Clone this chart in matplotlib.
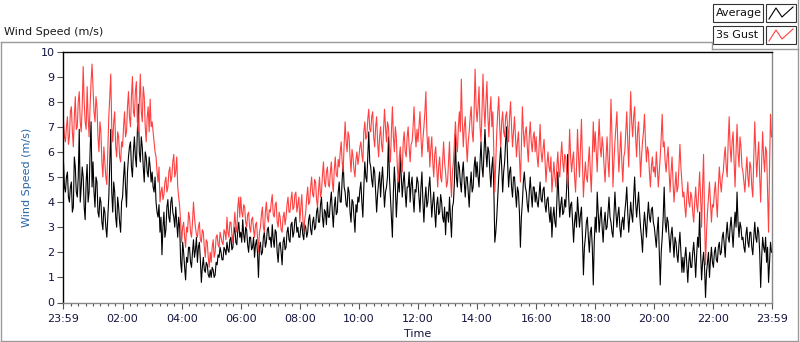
import numpy as np
import matplotlib.pyplot as plt
from matplotlib.lines import Line2D
from matplotlib.patches import Rectangle

# 2-minute samples, one row per hour (00:00 .. 23:58)
avg_rows = [
    [5.6, 4.6, 4.4, 5.0, 5.2, 4.2, 4.0, 4.6, 4.8, 3.6, 3.8, 5.8, 5.4, 4.4, 4.2, 5.0, 6.9, 4.0, 4.6, 5.4, 5.0, 3.8, 3.3, 4.8, 5.5, 4.0, 4.4, 6.0, 7.2, 4.6],
    [5.6, 4.4, 3.8, 5.0, 4.8, 3.6, 3.4, 4.2, 4.0, 3.2, 2.9, 3.8, 3.6, 3.0, 2.6, 3.4, 4.2, 5.6, 6.9, 4.4, 3.6, 4.8, 4.4, 3.4, 3.0, 4.2, 3.8, 3.2, 2.8, 4.0],
    [4.2, 5.0, 5.6, 4.6, 3.8, 5.2, 5.8, 6.2, 6.4, 5.4, 5.0, 6.0, 6.6, 5.8, 5.4, 6.8, 7.9, 6.0, 5.6, 6.6, 6.2, 5.4, 4.8, 6.0, 5.8, 5.2, 5.0, 5.8, 5.4, 4.8],
    [5.2, 4.6, 4.4, 5.0, 4.0, 3.6, 3.4, 3.9, 2.8, 3.4, 1.9, 3.0, 3.6, 2.6, 2.9, 3.8, 4.1, 3.4, 3.2, 4.0, 4.2, 3.6, 3.4, 3.0, 3.8, 3.2, 2.6, 3.4, 3.0, 1.6],
    [1.2, 2.4, 2.0, 1.4, 0.9, 1.8, 1.6, 2.2, 2.2, 1.6, 1.4, 2.0, 2.5, 1.8, 2.1, 2.6, 1.6, 2.2, 2.4, 1.7, 0.8, 1.4, 1.8, 1.3, 1.2, 1.6, 1.5, 1.1, 1.0, 1.3],
    [1.0, 1.4, 1.3, 1.0, 1.1, 1.6, 1.5, 1.9, 1.8, 2.2, 2.0, 1.7, 1.7, 2.2, 2.1, 1.9, 2.4, 2.1, 2.0, 2.5, 2.6, 2.1, 2.2, 2.8, 3.0, 2.4, 2.3, 2.9, 3.2, 2.6],
    [2.8, 2.4, 3.3, 2.7, 2.4, 3.0, 2.9, 2.3, 2.0, 2.6, 2.6, 2.1, 2.2, 2.6, 1.8, 2.3, 2.5, 2.0, 1.0, 2.2, 2.4, 1.9, 2.0, 2.6, 2.8, 2.2, 2.4, 2.9, 3.0, 2.5],
    [2.6, 2.2, 3.1, 2.5, 2.2, 2.9, 2.8, 2.0, 1.6, 2.3, 2.4, 2.0, 1.5, 2.4, 2.6, 2.1, 2.2, 2.8, 3.0, 2.5, 2.4, 3.1, 3.2, 2.6, 2.8, 3.3, 3.4, 2.8, 3.0, 2.6],
    [2.6, 3.0, 3.2, 2.7, 2.5, 3.1, 3.0, 2.6, 2.8, 3.3, 3.5, 2.9, 2.7, 3.2, 3.4, 2.9, 3.0, 3.6, 3.8, 3.2, 3.2, 3.9, 4.2, 3.4, 3.0, 3.7, 3.6, 3.1, 4.0, 3.4],
    [3.4, 4.0, 4.4, 3.6, 3.0, 3.8, 4.2, 3.5, 3.6, 4.4, 4.8, 4.0, 4.0, 4.9, 5.6, 4.6, 4.4, 3.9, 3.8, 4.6, 4.4, 3.6, 3.2, 4.1, 4.0, 3.4, 2.8, 3.9, 3.6, 4.2],
    [4.0, 4.5, 4.8, 4.0, 3.4, 4.6, 5.6, 5.0, 4.8, 5.8, 6.8, 5.6, 5.4, 4.9, 4.6, 5.4, 5.2, 4.4, 3.6, 4.3, 4.8, 5.2, 4.2, 4.9, 5.4, 4.6, 3.8, 4.4, 4.6, 5.0],
    [6.6, 5.0, 4.2, 3.4, 2.6, 4.4, 5.4, 4.6, 3.4, 4.2, 5.0, 4.4, 5.9, 5.0, 4.2, 4.8, 5.2, 4.4, 3.8, 4.6, 4.6, 5.2, 4.0, 4.7, 5.0, 4.2, 3.6, 4.5, 4.4, 5.0],
    [4.8, 4.2, 3.6, 4.6, 5.2, 4.0, 3.2, 4.1, 4.6, 3.8, 4.0, 4.6, 5.0, 4.2, 3.4, 4.0, 4.4, 3.6, 3.0, 3.9, 4.2, 3.5, 3.6, 4.3, 4.0, 3.4, 3.2, 3.8, 2.7, 3.6],
    [3.6, 3.2, 4.2, 3.4, 2.6, 3.8, 4.0, 4.8, 6.7, 5.0, 4.6, 5.6, 5.4, 4.8, 4.4, 5.2, 5.6, 4.8, 4.2, 5.0, 5.0, 4.4, 3.8, 4.7, 5.2, 4.4, 4.6, 5.4, 5.8, 5.0],
    [5.6, 5.0, 4.6, 5.6, 6.4, 5.4, 5.0, 5.9, 6.9, 6.0, 5.4, 6.2, 6.0, 5.2, 4.6, 5.4, 5.8, 4.6, 2.4, 2.8, 3.4, 4.2, 5.0, 5.6, 6.2, 5.4, 4.4, 5.2, 5.6, 6.4],
    [7.0, 5.6, 4.6, 5.2, 5.4, 4.6, 4.2, 5.0, 5.0, 4.4, 3.8, 4.6, 4.4, 3.6, 2.2, 3.4, 4.0, 4.8, 5.2, 4.6, 4.4, 3.9, 3.6, 4.4, 5.0, 4.3, 3.8, 4.6, 4.6, 4.0],
    [4.4, 4.0, 3.8, 4.3, 4.8, 4.1, 4.0, 4.5, 4.6, 3.9, 3.6, 4.1, 4.2, 3.6, 3.2, 3.8, 2.6, 3.4, 3.8, 3.2, 3.0, 4.0, 5.2, 4.2, 3.4, 3.9, 4.2, 3.5, 3.6, 4.1],
    [3.8, 4.6, 5.9, 4.2, 3.4, 3.9, 4.0, 3.2, 2.4, 3.2, 3.6, 3.0, 4.2, 3.6, 3.0, 3.5, 3.8, 2.6, 1.1, 2.2, 2.6, 3.2, 3.4, 2.6, 2.0, 2.8, 3.0, 2.2, 0.7, 2.4],
    [3.4, 2.8, 4.4, 3.6, 2.8, 3.4, 3.8, 3.0, 2.4, 3.2, 3.6, 2.9, 3.0, 3.6, 4.2, 3.4, 3.2, 2.8, 2.6, 3.5, 4.4, 3.6, 3.0, 3.5, 3.8, 3.0, 2.6, 3.2, 3.4, 2.9],
    [3.6, 4.0, 4.6, 3.6, 2.8, 3.4, 4.0, 3.5, 3.2, 4.2, 5.0, 4.0, 3.4, 3.9, 4.4, 3.6, 3.0, 2.6, 2.0, 3.0, 3.6, 3.1, 2.6, 3.4, 4.0, 3.4, 3.2, 3.7, 3.8, 3.2],
    [3.0, 2.6, 2.2, 2.9, 3.4, 2.0, 0.7, 2.0, 2.6, 3.4, 4.6, 3.2, 2.8, 3.4, 3.2, 2.6, 2.0, 2.7, 3.0, 2.4, 1.8, 2.6, 2.4, 1.9, 1.6, 2.3, 2.8, 2.0, 1.2, 1.8],
    [1.2, 1.8, 2.2, 1.5, 0.8, 1.6, 2.0, 1.4, 1.4, 2.0, 2.4, 1.8, 1.0, 1.9, 2.6, 2.2, 3.6, 2.0, 0.9, 1.6, 2.0, 1.4, 0.2, 1.2, 1.6, 2.0, 1.0, 1.7, 2.2, 1.6],
    [1.4, 2.0, 2.2, 1.7, 1.6, 2.2, 2.4, 1.9, 2.0, 2.6, 2.8, 2.3, 1.8, 2.7, 3.2, 2.6, 2.4, 3.0, 3.4, 2.8, 2.2, 3.0, 3.6, 3.0, 4.4, 3.2, 2.6, 3.2, 3.0, 2.5],
    [2.6, 2.2, 2.0, 2.7, 3.0, 2.4, 2.2, 2.8, 2.8, 2.2, 1.9, 2.6, 3.2, 2.6, 2.4, 3.0, 2.8, 2.0, 0.6, 1.8, 2.6, 2.2, 2.0, 2.6, 1.6, 2.2, 0.8, 1.6, 2.4, 2.0],
]

gust_rows = [
    [7.2, 6.6, 6.4, 7.0, 7.4, 6.3, 6.6, 7.6, 7.8, 6.8, 6.2, 7.4, 8.2, 6.9, 7.0, 8.0, 8.4, 7.2, 6.8, 7.8, 9.4, 8.0, 7.2, 6.9, 8.6, 7.4, 6.6, 7.8, 8.8, 9.5],
    [8.6, 7.6, 7.2, 8.2, 7.8, 6.6, 6.0, 7.2, 6.8, 5.6, 5.0, 6.2, 5.6, 5.0, 4.7, 6.0, 7.4, 8.2, 9.1, 7.0, 6.4, 7.2, 7.6, 6.2, 5.8, 6.8, 6.6, 5.8, 5.6, 6.4],
    [6.2, 7.0, 7.6, 6.6, 6.8, 7.8, 8.4, 7.4, 7.0, 8.2, 9.0, 7.6, 7.4, 8.4, 8.8, 7.2, 6.8, 8.0, 9.1, 7.6, 7.2, 8.6, 8.2, 7.0, 6.4, 7.4, 7.8, 6.8, 8.1, 7.0],
    [7.2, 6.8, 6.4, 6.0, 5.8, 5.2, 4.8, 5.4, 4.0, 4.4, 4.6, 4.1, 4.3, 4.8, 5.0, 4.4, 4.6, 5.2, 5.4, 4.8, 5.0, 5.6, 5.9, 5.0, 5.2, 5.8, 4.6, 4.2, 3.8, 3.2],
    [2.4, 3.0, 3.2, 2.6, 2.2, 3.0, 2.8, 3.6, 3.4, 2.8, 2.6, 3.2, 4.0, 3.4, 3.0, 2.7, 2.6, 3.0, 3.2, 2.5, 2.4, 2.9, 2.8, 2.2, 1.8, 2.5, 2.4, 1.8, 1.4, 2.0],
    [1.6, 2.2, 2.5, 1.8, 2.0, 2.6, 2.7, 2.3, 2.2, 2.8, 2.6, 2.4, 2.3, 2.9, 2.8, 2.5, 3.4, 2.8, 2.6, 3.2, 3.2, 2.7, 2.4, 3.0, 3.6, 3.0, 2.8, 3.8, 4.2, 3.4],
    [4.2, 3.6, 3.4, 3.9, 3.8, 3.2, 3.0, 3.5, 3.6, 3.0, 2.8, 3.3, 3.4, 2.9, 2.6, 3.1, 3.2, 2.6, 2.0, 2.8, 3.0, 3.5, 3.8, 3.0, 2.8, 3.6, 4.0, 3.4, 3.2, 3.7],
    [3.6, 4.0, 4.3, 3.5, 3.4, 3.9, 4.0, 3.2, 3.0, 3.6, 3.4, 2.9, 2.8, 3.4, 3.6, 3.1, 3.4, 3.9, 4.2, 3.6, 3.6, 4.1, 4.4, 3.7, 3.8, 4.3, 4.4, 3.6, 3.9, 4.2],
    [3.2, 3.8, 4.3, 3.4, 2.8, 3.3, 3.6, 4.2, 4.6, 3.9, 4.0, 4.6, 5.0, 4.3, 4.2, 4.9, 4.8, 4.1, 3.8, 4.5, 5.0, 4.2, 4.4, 5.1, 5.6, 4.8, 4.6, 5.2, 5.4, 4.7],
    [4.6, 5.2, 5.6, 4.8, 4.4, 5.3, 5.8, 5.1, 5.0, 5.7, 5.4, 6.0, 6.4, 5.6, 5.2, 6.3, 7.2, 6.4, 6.0, 6.8, 6.6, 5.8, 5.2, 6.1, 5.8, 5.3, 5.0, 5.7, 6.0, 5.5],
    [5.8, 6.2, 6.4, 5.9, 5.6, 6.8, 7.2, 6.5, 6.6, 7.3, 7.7, 6.9, 6.8, 7.4, 7.6, 6.6, 6.2, 7.0, 7.4, 6.4, 5.8, 6.6, 7.0, 6.3, 6.0, 6.9, 7.7, 7.0, 6.4, 7.2],
    [7.0, 6.2, 5.6, 6.8, 7.8, 6.6, 6.0, 7.0, 6.6, 5.4, 4.8, 5.8, 6.2, 5.6, 5.2, 6.4, 6.8, 6.0, 5.8, 6.6, 7.0, 6.2, 5.6, 6.3, 6.4, 7.0, 7.8, 6.8, 6.2, 6.9],
    [6.4, 7.0, 7.6, 6.6, 5.8, 6.5, 7.0, 7.6, 8.4, 6.8, 6.0, 6.6, 5.4, 6.1, 6.6, 5.6, 5.0, 5.9, 6.2, 5.4, 4.6, 5.4, 5.8, 5.0, 4.8, 5.6, 6.4, 5.6, 5.2, 4.6],
    [4.8, 5.6, 6.4, 5.0, 4.2, 5.2, 5.6, 6.4, 7.2, 6.4, 6.0, 7.0, 7.6, 6.8, 8.9, 7.2, 6.2, 7.0, 7.4, 6.4, 5.6, 6.4, 6.8, 7.4, 7.8, 6.8, 6.4, 7.6, 9.3, 7.8],
    [7.2, 7.8, 8.6, 7.0, 6.4, 7.6, 9.1, 7.8, 7.0, 8.0, 8.8, 7.4, 6.6, 7.6, 8.2, 7.0, 7.6, 6.0, 4.4, 5.6, 6.8, 7.6, 8.2, 7.0, 6.2, 7.2, 7.6, 6.8, 6.6, 7.4],
    [7.6, 7.0, 6.4, 7.4, 8.0, 7.0, 6.2, 6.8, 7.4, 6.6, 5.8, 6.4, 6.8, 5.8, 4.8, 6.2, 7.8, 6.8, 6.2, 6.8, 7.0, 6.2, 5.6, 6.6, 7.2, 6.4, 6.0, 6.6, 6.8, 6.0],
    [6.6, 5.8, 5.4, 6.2, 7.1, 6.0, 5.6, 6.1, 6.5, 5.6, 4.8, 5.5, 6.0, 5.4, 5.2, 5.8, 4.4, 5.0, 5.6, 5.0, 4.6, 5.4, 6.0, 5.2, 5.0, 5.8, 6.4, 5.6, 5.2, 5.9],
    [5.8, 5.2, 4.6, 5.6, 6.9, 5.8, 5.2, 5.7, 6.0, 5.0, 4.4, 5.4, 6.9, 5.8, 5.0, 6.2, 7.3, 5.6, 4.2, 5.0, 5.6, 5.0, 4.8, 5.6, 6.2, 5.2, 4.4, 5.8, 7.2, 6.0],
    [6.8, 6.0, 5.2, 6.4, 7.3, 6.2, 5.8, 6.6, 6.2, 5.4, 4.8, 5.8, 6.6, 5.6, 5.0, 6.4, 8.1, 6.6, 4.6, 5.6, 6.4, 7.0, 7.6, 6.2, 5.2, 6.0, 6.8, 5.6, 4.8, 5.8],
    [6.0, 6.8, 7.6, 6.4, 5.4, 7.0, 8.4, 7.2, 6.6, 7.4, 7.8, 6.6, 5.8, 6.8, 7.2, 6.2, 5.0, 5.8, 6.4, 6.8, 7.5, 6.4, 5.6, 6.2, 6.0, 5.2, 4.6, 5.4, 5.8, 5.2],
    [5.4, 5.0, 6.0, 5.4, 4.6, 5.2, 5.8, 6.6, 7.5, 6.2, 6.4, 5.6, 5.2, 5.8, 6.2, 5.2, 4.4, 5.2, 5.8, 4.8, 4.0, 4.6, 5.2, 4.4, 4.6, 5.4, 6.3, 5.4, 4.8, 4.2],
    [4.4, 3.8, 3.4, 4.2, 4.8, 4.0, 3.8, 4.4, 4.2, 3.6, 3.2, 4.0, 4.6, 3.9, 3.6, 4.4, 5.2, 4.2, 3.0, 4.6, 5.9, 3.4, 1.5, 2.8, 3.6, 4.2, 4.8, 4.0, 3.2, 3.9],
    [3.8, 4.4, 4.8, 4.0, 3.4, 4.6, 5.4, 4.8, 4.4, 5.0, 5.2, 5.8, 6.2, 5.4, 5.0, 6.4, 7.4, 6.2, 5.6, 6.4, 6.8, 5.6, 4.6, 6.0, 7.1, 6.0, 5.4, 6.6, 6.2, 5.4],
    [5.2, 4.8, 4.4, 5.2, 5.8, 5.0, 4.6, 5.6, 5.4, 4.6, 4.2, 5.8, 7.2, 6.0, 5.0, 5.8, 6.4, 5.0, 4.0, 5.6, 6.8, 5.8, 5.2, 6.2, 6.0, 4.4, 2.8, 5.4, 7.5, 6.6],
]

avg = np.concatenate(avg_rows)
gust = np.concatenate(gust_rows)
minutes = np.arange(len(avg)) * 2  # minutes after midnight

tick_pos = [-1, 120, 240, 360, 480, 600, 720, 840, 960, 1080, 1200, 1320, 1439]
tick_labels = ["23:59", "02:00", "04:00", "06:00", "08:00", "10:00", "12:00",
               "14:00", "16:00", "18:00", "20:00", "22:00", "23:59"]

W, H = 800, 342
fig = plt.figure(figsize=(8, 3.42), dpi=100)
ax = fig.add_axes([63 / W, 1 - 302.5 / H, 709 / W, 251 / H])

red = "#ff4040"
navy = "#141440"
ax.plot(minutes, avg, color="black", lw=0.8)
ax.plot(minutes, gust, color=red, lw=0.8)

ax.set_xlim(-1, 1439)
ax.set_ylim(0, 10)
ax.set_yticks(range(11))
ax.set_xticks(tick_pos)
ax.set_xticklabels(tick_labels)
minor = [m for m in range(15, 1440, 15) if m % 120 != 0]
ax.set_xticks(minor, minor=True)
ax.tick_params(axis="both", labelsize=8, colors="#555555", labelcolor=navy,
               length=4, width=0.8, pad=2)
ax.tick_params(axis="x", which="major", pad=4)
ax.tick_params(axis="x", which="minor", length=2.5, width=0.8, colors="#555555")

for s in ["left", "top"]:
    ax.spines[s].set_color("black")
for s in ["right", "bottom"]:
    ax.spines[s].set_color("#888888")
for s in ax.spines.values():
    s.set_linewidth(1.0)

ax.set_ylabel("Wind Speed (m/s)", color="#2a66a8", fontsize=8, labelpad=6)
ax.set_xlabel("Time", color=navy, fontsize=8, labelpad=4)


def px(x, y):
    return x / W, 1 - y / H


# outer frame and caption
gray = "#9a9a9a"
for (x0, y0), (x1, y1) in [((1, 42), (712, 42)), ((712, 42), (712, 49)),
                           ((712, 49), (798, 49)), ((798, 0), (798, 341)),
                           ((1, 42), (1, 341)), ((1, 341), (798, 341))]:
    a, b = px(x0, y0)
    c, d = px(x1, y1)
    fig.add_artist(Line2D([a, c], [b, d], color=gray, lw=1.0))

fig.text(*px(4, 32), "Wind Speed (m/s)", fontsize=8, color="#1a1a1a", va="center")

# legend boxes
for i, (name, col) in enumerate([("Average", "black"), ("3s Gust", red)]):
    top = 4 + i * 22
    x0, y0 = px(713, top + 18)
    fig.add_artist(Rectangle((x0, y0), 50 / W, 18 / H, facecolor="white",
                             edgecolor="#333333", lw=0.8))
    fig.text(*px(716, top + 9), name, fontsize=8, color="#101010", va="center")
    x0, y0 = px(766, top + 18)
    fig.add_artist(Rectangle((x0, y0), 30 / W, 18 / H, facecolor="white",
                             edgecolor="#333333", lw=0.8))
    zx = [769, 776, 782, 793]
    zy = [top + 15, top + 4, top + 13, top + 3]
    fig.add_artist(Line2D([v / W for v in zx], [1 - v / H for v in zy],
                          color=col, lw=0.8))

fig.savefig("out.png", dpi=100)
